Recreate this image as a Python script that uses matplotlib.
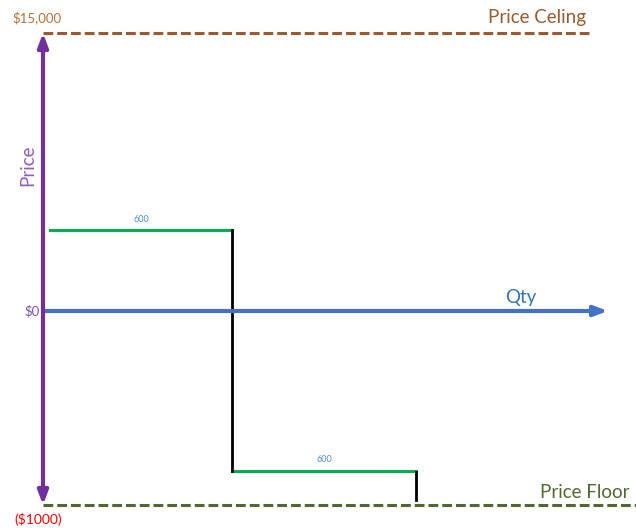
import matplotlib
matplotlib.use("Agg")
import matplotlib.pyplot as plt

plt.rcParams['font.family'] = ['Lato', 'DejaVu Sans']

# schematic coordinates (x: quantity position, y: price position, image-like)
price_labels = ["$15,000", "$0", "($1000)"]
price_levels = [33, 311, 505]          # ceiling, zero, floor
qty_labels = ["600", "600"]
step_x = [50, 232, 232, 416]
step_y = [230, 230, 471, 471]
tail_x = [416, 416]
tail_y = [472, 500]

fig = plt.figure(figsize=(6.36, 5.32), dpi=100)
ax = fig.add_axes([0, 0, 1, 1])
ax.set_xlim(0, 636)
ax.set_ylim(532, 0)
ax.axis("off")

ceil_y, zero_y, floor_y = price_levels

# price ceiling / floor dashed lines
ax.plot([43, 592], [ceil_y, ceil_y], color="#9E5A2C", lw=2.2,
        dashes=(3.2, 1.3), solid_capstyle="butt")
ax.plot([43, 636], [floor_y, floor_y], color="#4F6A2C", lw=2.2,
        dashes=(3.2, 1.3), solid_capstyle="butt")

# quantity axis
ax.annotate("", xy=(608, zero_y), xytext=(43, zero_y),
            arrowprops=dict(arrowstyle="-|>,head_length=0.8,head_width=0.3",
                            color="#4472C4", lw=3, shrinkA=0, shrinkB=0))

# price axis (double arrow)
ax.annotate("", xy=(43, ceil_y), xytext=(43, floor_y),
            arrowprops=dict(arrowstyle="<|-|>,head_length=0.8,head_width=0.3",
                            color="#7030A0", lw=3, shrinkA=0, shrinkB=0))

# green steps and black drops
ax.plot(step_x[:2], step_y[:2], color="#00B050", lw=2.2)
ax.plot(step_x[2:], step_y[2:], color="#00B050", lw=2.2)
ax.plot(step_x[1:3], step_y[1:3], color="black", lw=2)
ax.plot(tail_x, tail_y, color="black", lw=2)

ax.text((step_x[0] + step_x[1]) / 2, step_y[0] - 10, qty_labels[0],
        ha="center", va="center", fontsize=6.5, color="#4A90D0")
ax.text((step_x[2] + step_x[3]) / 2, step_y[2] - 11, qty_labels[1],
        ha="center", va="center", fontsize=6.5, color="#4A90D0")

# labels
ax.text(37, 18, price_labels[0], ha="center", va="center", fontsize=9.5, color="#B8703A")
ax.text(40, 311, price_labels[1], ha="right", va="center", fontsize=9.5, color="#7F4FBF")
ax.text(38, 520, price_labels[2], ha="center", va="center", fontsize=10, color="#FF0000")
ax.text(28, 165, "Price", ha="center", va="center", rotation=90, fontsize=13.5,
        color="#8E5CC8")
ax.text(537, 18, "Price Celing", ha="center", va="center", fontsize=13.5, color="#9E5A2C")
ax.text(585, 492, "Price Floor", ha="center", va="center", fontsize=13.5, color="#4F6A2C")
ax.text(521, 298, "Qty", ha="center", va="center", fontsize=13.5, color="#2E75B6")

fig.savefig("out.png", dpi=100, facecolor="white")
